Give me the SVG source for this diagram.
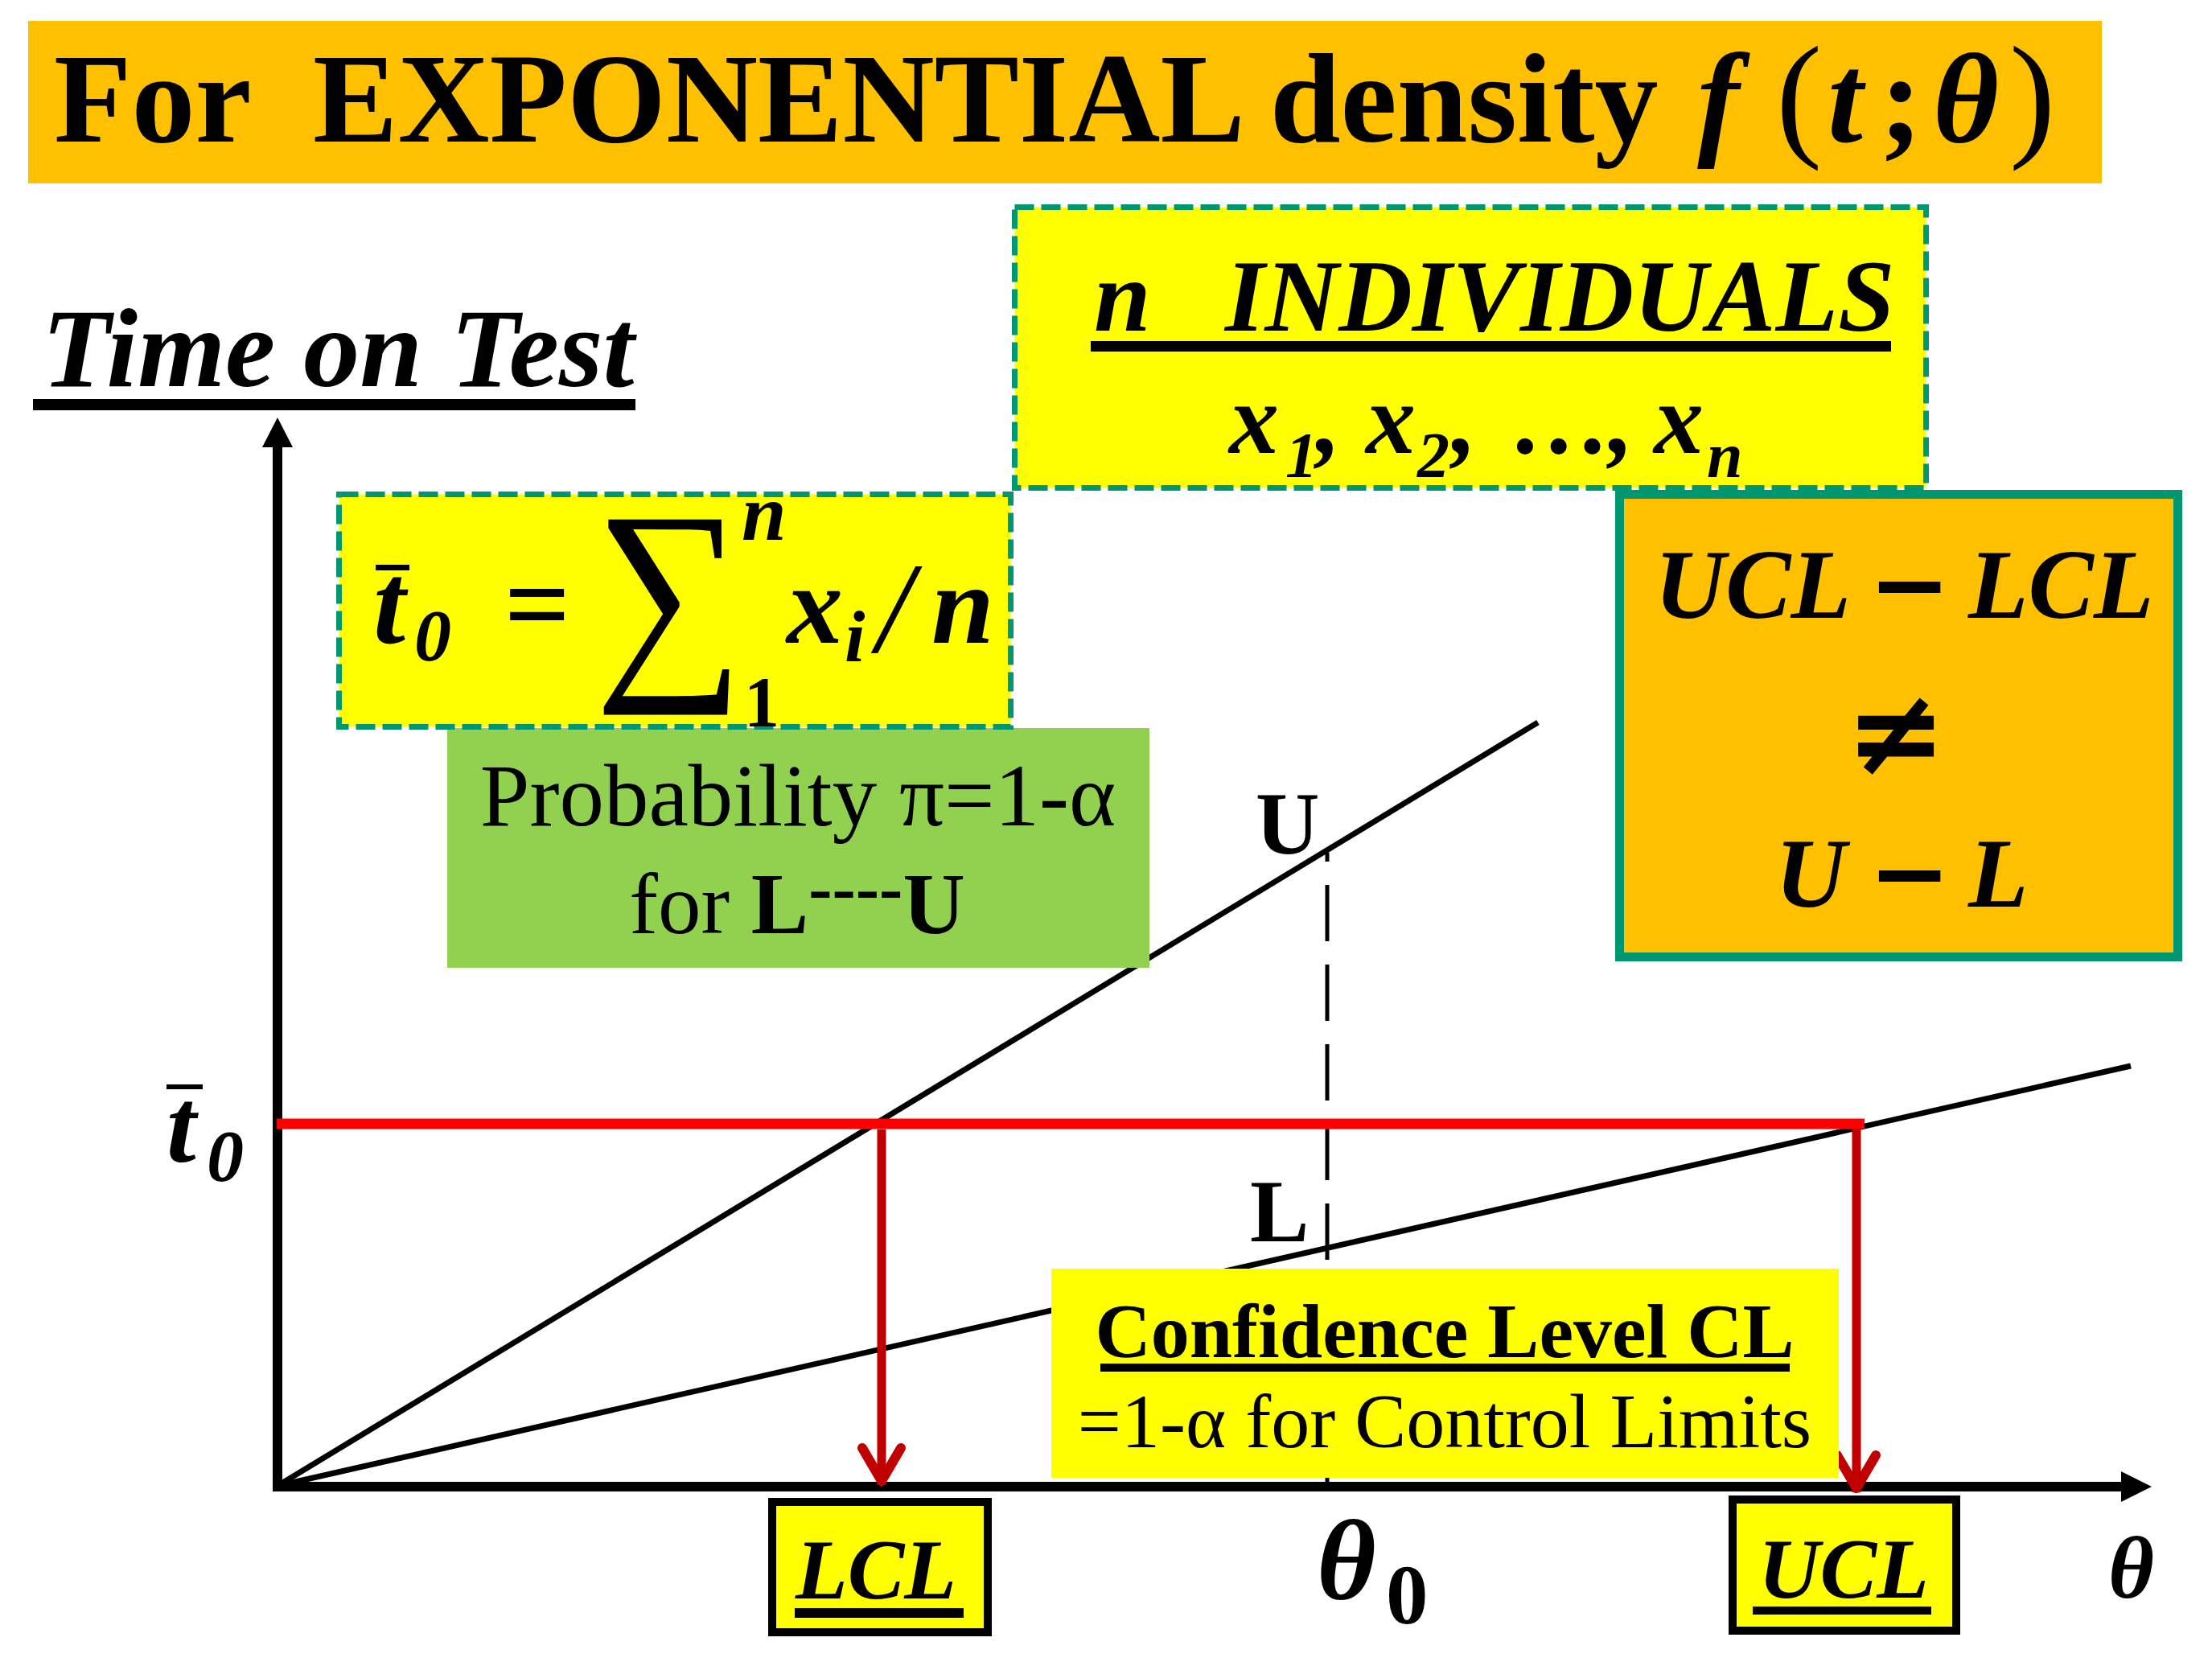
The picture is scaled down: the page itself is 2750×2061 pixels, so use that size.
<svg xmlns="http://www.w3.org/2000/svg" width="2750" height="2061" viewBox="0 0 2750 2061">
<style>
text { font-family: "Liberation Serif", "Times New Roman", serif; fill: #000; }
.b { font-weight: bold; }
.bi { font-weight: bold; font-style: italic; }
.r { font-weight: normal; font-style: normal; }
.m { font-family: "DejaVu Sans", sans-serif; font-weight: bold; font-style: normal; }
.dash { fill: #FFFF00; stroke: #009670; stroke-width: 7; stroke-dasharray: 24 9; }
.ul { fill: #000; }
</style>
<defs>
<marker id="redhead" markerUnits="userSpaceOnUse" viewBox="-60 -35 70 70" markerWidth="70" markerHeight="70" refX="0" refY="0" orient="auto">
<path d="M-46,-24 L-5,0 L-46,24" fill="none" stroke="#C00000" stroke-width="12" stroke-linecap="round" stroke-linejoin="round"/>
</marker>
</defs>
<rect width="2750" height="2061" fill="#FFFFFF"/>

<g id="title">
<rect x="35" y="26" width="2578" height="202" fill="#FFC000"/>
<text x="67" y="176" font-size="158" class="b">For</text>
<text x="389" y="176" font-size="158" class="b">EXPONENTIAL density</text>
<text y="176" font-size="158" class="bi"><tspan x="2110">f</tspan><tspan x="2208" class="r" font-size="172">(</tspan><tspan x="2272">t</tspan><tspan x="2337" class="b" font-style="normal">;</tspan><tspan x="2403">θ</tspan><tspan x="2498" class="r" font-size="172">)</tspan></text>
</g>

<g id="connectors">
<line x1="345" y1="1854" x2="345" y2="552" stroke="#000" stroke-width="12"/>
<polygon points="326,556 345,519 364,556" fill="#000"/>
<line x1="339" y1="1848" x2="2640" y2="1848" stroke="#000" stroke-width="12"/>
<polygon points="2637,1829 2675,1848 2637,1867" fill="#000"/>
<line x1="345" y1="1847" x2="1912" y2="898" stroke="#000" stroke-width="7"/>
<line x1="345" y1="1847" x2="2649" y2="1325" stroke="#000" stroke-width="7"/>
<line x1="1650" y1="1060" x2="1650" y2="1843" stroke="#000" stroke-width="5" stroke-dasharray="70 29" stroke-dashoffset="-40"/>
<line x1="344" y1="1397" x2="2318" y2="1397" stroke="#FF0000" stroke-width="13"/>
<line x1="1096" y1="1404" x2="1096" y2="1846" stroke="#C00000" stroke-width="11" marker-end="url(#redhead)"/>
<line x1="2308" y1="1404" x2="2308" y2="1855" stroke="#C00000" stroke-width="11" marker-end="url(#redhead)"/>
</g>

<g id="time-on-test">
<text x="52" y="480" font-size="140" class="bi">Time on Test</text>
<rect x="41" y="496" width="749" height="14" class="ul"/>
</g>

<g id="n-individuals">
<rect x="1261.5" y="257.5" width="1133" height="349" class="dash"/>
<text y="411" font-size="127" class="bi"><tspan x="1360">n</tspan><tspan x="1523">INDIVIDUALS</tspan></text>
<rect x="1356" y="424" width="995" height="13" class="ul"/>
<text y="563" font-size="124" class="bi"><tspan x="1528">x</tspan><tspan x="1598" y="593" font-size="80">1</tspan><tspan x="1636" y="563">,</tspan><tspan x="1698">x</tspan><tspan x="1762" y="593" font-size="80">2</tspan><tspan x="1805" y="563">,</tspan><tspan x="1880">…</tspan><tspan x="2000">,</tspan><tspan x="2056">x</tspan><tspan x="2122" y="593" font-size="80">n</tspan></text>
</g>

<g id="probability">
<rect x="556" y="905" width="873" height="298" fill="#92D050"/>
<text x="992" y="1026" font-size="111" text-anchor="middle">Probability π=1-α</text>
<text x="991" y="1160" font-size="107" text-anchor="middle">for <tspan class="b">L</tspan><tspan class="b" font-size="88" dy="-27">----</tspan><tspan class="b" dy="27">U</tspan></text>
</g>

<g id="t0-box">
<rect x="421.5" y="614.5" width="835" height="289" class="dash"/>
<text x="464" y="799" font-size="144" class="bi">t</text>
<rect x="467" y="702" width="42" height="7" class="ul"/>
<text x="515" y="821" font-size="92" class="bi">0</text>
<text x="627" y="799" font-size="144" class="b">=</text>
<text transform="translate(739,829) scale(0.93,1)" x="0" y="0" font-size="280" class="r">∑</text>
<text x="922" y="671" font-size="100" class="bi">n</text>
<text x="925" y="902" font-size="88" class="b">1</text>
<text x="978" y="799" font-size="140" class="bi">x</text>
<text x="1050" y="822" font-size="92" class="bi">i</text>
<text x="1090" y="810" font-size="160" font-style="italic">/</text>
<text x="1158" y="799" font-size="140" class="bi">n</text>
</g>

<g id="ucl-lcl-box">
<rect x="2013.5" y="614.5" width="694" height="575" fill="#FFC000" stroke="#009670" stroke-width="11"/>
<text y="768" font-size="122" class="bi"><tspan x="2057">UCL</tspan><tspan x="2323" class="m">−</tspan><tspan x="2447">LCL</tspan></text>
<text x="2357" y="962" font-size="150" class="m" text-anchor="middle">≠</text>
<text y="1127" font-size="122" class="bi"><tspan x="2207">U</tspan><tspan x="2323" class="m">−</tspan><tspan x="2447">L</tspan></text>
</g>

<g id="u-label"><text x="1561" y="1061" font-size="110" class="b">U</text></g>
<g id="l-label"><text x="1554" y="1543" font-size="110" class="b">L</text></g>

<g id="confidence-box">
<rect x="1307" y="1577" width="979" height="260" fill="#FFFF00"/>
<text x="1796" y="1687" font-size="96" class="b" text-anchor="middle">Confidence Level CL</text>
<rect x="1368" y="1695" width="857" height="10" class="ul"/>
<text x="1796" y="1799" font-size="96" text-anchor="middle">=1-α for Control Limits</text>
</g>

<g id="lcl-box">
<rect x="960" y="1867" width="268" height="162" fill="#FFFF00" stroke="#000" stroke-width="10"/>
<text x="1089" y="1987" font-size="106" class="bi" text-anchor="middle">LCL</text>
<rect x="988" y="1999" width="210" height="12" class="ul"/>
</g>

<g id="ucl-box">
<rect x="2154" y="1864" width="278" height="163" fill="#FFFF00" stroke="#000" stroke-width="10"/>
<text x="2292" y="1986" font-size="106" class="bi" text-anchor="middle">UCL</text>
<rect x="2179" y="1997" width="222" height="10" class="ul"/>
</g>

<g id="t0-axis-label">
<text x="207" y="1444" font-size="132" class="bi">t</text>
<rect x="207" y="1348" width="45" height="6" class="ul"/>
<text x="257" y="1468" font-size="92" class="bi">0</text>
</g>

<g id="theta0-label">
<text x="1637" y="1988" font-size="142" class="bi">θ</text>
<text x="1723" y="2018" font-size="105" class="b">0</text>
</g>

<g id="theta-label">
<text x="2621" y="1986" font-size="110" class="bi">θ</text>
</g>
</svg>
